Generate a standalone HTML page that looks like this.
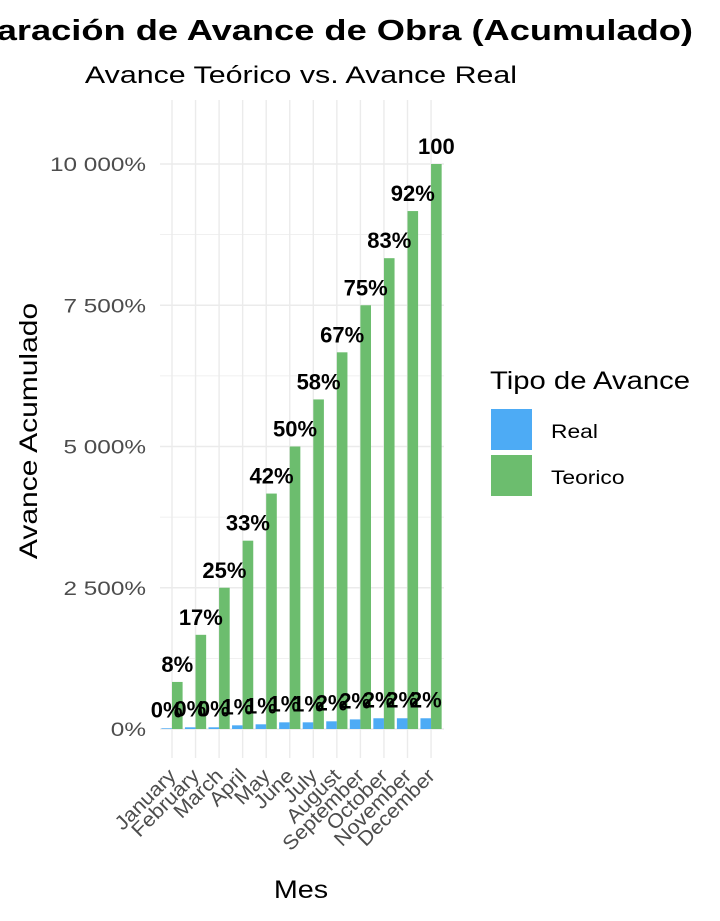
<!DOCTYPE html>
<html><head><meta charset="utf-8"><style>
body{margin:0;background:#fff;}
svg{display:block;font-family:"Liberation Sans",sans-serif;}
</style></head><body>
<svg id="chart" width="720" height="921">
<g id="grid"></g>
<g id="bars"></g>
<g id="labels"></g>
<g id="axes"></g>
<text class="s" data-f="1.25" x="693" y="40" text-anchor="end" font-size="29" font-weight="bold">Comparación de Avance de Obra (Acumulado)</text>
<text class="s" data-f="1.265" x="301" y="83" text-anchor="middle" font-size="24">Avance Teórico vs. Avance Real</text>
<text class="s" data-f="1.15" x="301" y="898" text-anchor="middle" font-size="25">Mes</text>
<text class="s" data-f="1.2" transform="translate(37,431) rotate(-90)" text-anchor="middle" font-size="25">Avance Acumulado</text>
<g>
<text class="s" data-f="1.17" x="490" y="389" font-size="25">Tipo de Avance</text>
<rect x="491" y="409" width="41" height="41" fill="#4dabf5"/>
<text class="s" data-f="1.2" x="551" y="438" font-size="19">Real</text>
<rect x="491" y="455" width="41" height="41" fill="#6cbd6e"/>
<text class="s" data-f="1.2" x="551" y="484" font-size="19">Teorico</text>
</g>
</svg>
<script>
const months=["January","February","March","April","May","June","July","August","September","October","November","December"];
const teorico=[8.33,16.67,25,33.33,41.67,50,58.33,66.67,75,83.33,91.67,100];
const real=[0.12,0.3,0.3,0.65,0.83,1.18,1.18,1.36,1.7,1.9,1.9,1.9];
const teoricoLabels=["8%","17%","25%","33%","42%","50%","58%","67%","75%","83%","92%","100"];
const realLabels=["0%","0%","0%","1%","1%","1%","1%","2%","2%","2%","2%","2%"];
const yTicks=[0,25,50,75,100];
const yTickLabels=["0%","2 500%","5 000%","7 500%","10 000%"];
const NS="http://www.w3.org/2000/svg";
const y=v=>729-v*5.65;
const x=i=>172+i*23.55;
const bw=10.6;
function mk(p,t,a){const e=document.createElementNS(NS,t);for(const k in a)e.setAttribute(k,a[k]);document.getElementById(p).appendChild(e);return e;}
for(let v=-12.5;v<=112.5;v+=12.5){
  if(y(v)<100||y(v)>760)continue;
  const l=mk("grid","line",{x1:160,x2:444,y1:y(v),y2:y(v),stroke:"#ebebeb","stroke-width":(v%25===0)?1.4:0.7});
  
  
}
months.forEach((m,i)=>{
  const l=mk("grid","line",{x1:x(i),x2:x(i),y1:100,y2:758,stroke:"#ebebeb","stroke-width":1.4});
  
  
});
yTicks.forEach((v,i)=>{
  const t=mk("axes","text",{x:146,y:y(v)+7,"text-anchor":"end","font-size":19,fill:"#4d4d4d",class:"s","data-f":"1.28"});
  t.textContent=yTickLabels[i];
  
  
});
months.forEach((m,i)=>{
  const t=mk("axes","text",{transform:`translate(${x(i)+5},${777}) rotate(-45)`,"text-anchor":"end","font-size":20,fill:"#4d4d4d",class:"s","data-f":"1.08"});
  t.textContent=m;
  
  
});
months.forEach((m,i)=>{
  const r=mk("bars","rect",{x:x(i)-bw,y:y(real[i]),width:bw,height:729-y(real[i]),fill:"#4dabf5"});
  
  
  const g=mk("bars","rect",{x:x(i),y:y(teorico[i]),width:bw,height:729-y(teorico[i]),fill:"#6cbd6e"});
  
  
  const t1=mk("labels","text",{x:x(i)-bw/2,y:y(real[i])-11,"text-anchor":"middle","font-size":22,"font-weight":"bold"});
  t1.textContent=realLabels[i];
  
  
  const t2=mk("labels","text",{x:x(i)+bw/2,y:y(teorico[i])-10,"text-anchor":"middle","font-size":22,"font-weight":"bold"});
  t2.textContent=teoricoLabels[i];
  
  
});
document.querySelectorAll("text.s").forEach(t=>{
  const f=parseFloat(t.getAttribute("data-f"));
  const L=t.getComputedTextLength();
  t.setAttribute("textLength",(L*f).toFixed(1));
  t.setAttribute("lengthAdjust","spacingAndGlyphs");
});
</script>
</body></html>
